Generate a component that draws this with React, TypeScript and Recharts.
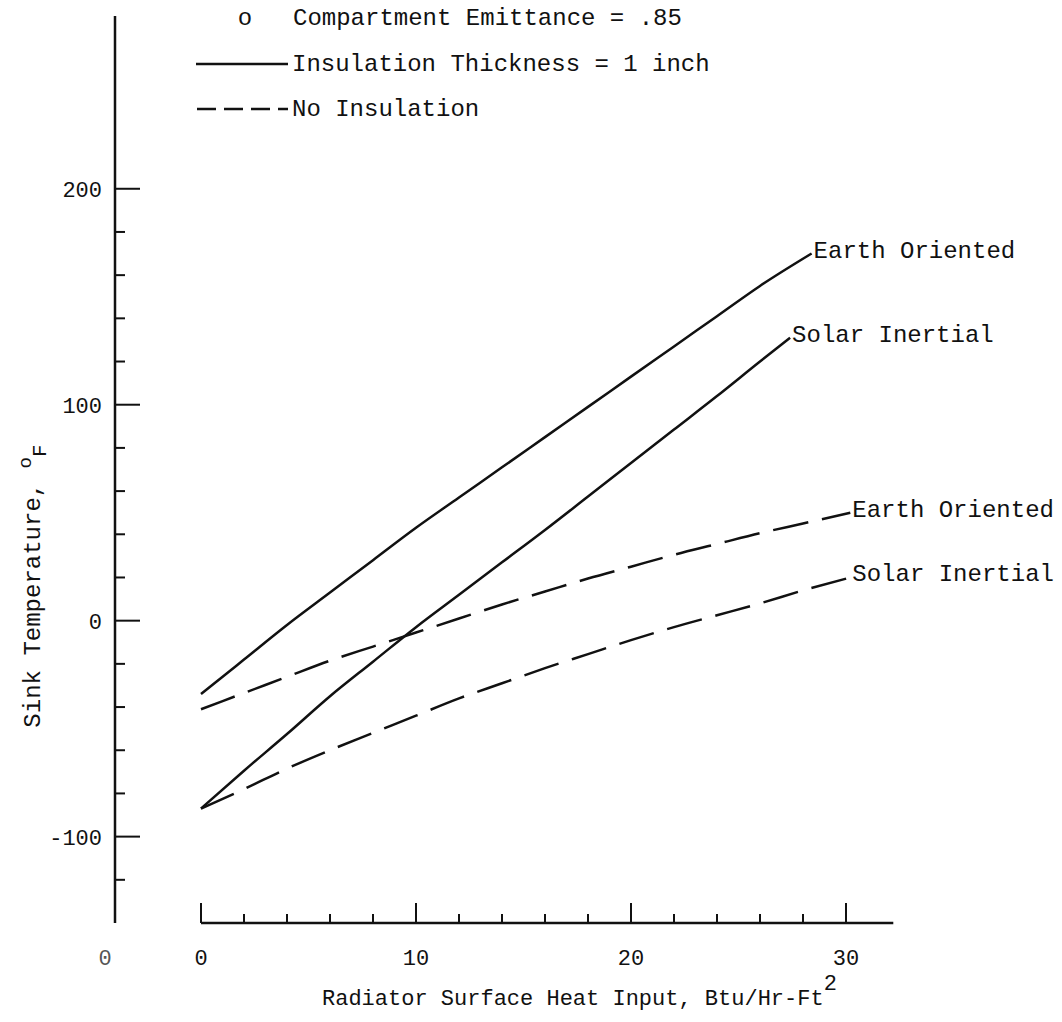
import React from 'react';
import { LineChart, Line, XAxis, YAxis, ReferenceLine, Legend } from 'recharts';

const FONT = '"Liberation Mono", "DejaVu Sans Mono", monospace';
const INK = '#111';

// Radiator surface heat input, Btu/Hr-Ft^2 (x) and sink temperature, deg F (y)
const earthInsulatedX = [0, 2, 4, 6, 8, 10, 12, 14, 16, 18, 20, 22, 24, 26, 28.4];
const earthInsulatedY = [-34, -18, -2, 13, 28, 43, 57, 71, 85, 99, 113, 127, 141, 155, 170];

const solarInsulatedX = [0, 2, 4, 6, 8, 10, 12, 14, 16, 18, 20, 22, 24, 26, 27.4];
const solarInsulatedY = [-87, -69.5, -52.5, -35, -19, -3, 12, 27, 42, 57.5, 73, 88.5, 104, 120, 131];

const earthBareX = [0, 2, 4, 6, 8, 10, 12, 14, 16, 18, 20, 22, 24, 26, 28, 30.2];
const earthBareY = [-41, -33.5, -26, -18.5, -12, -5.5, 1, 7.5, 13.5, 19.5, 25, 30.5, 35.5, 40.5, 45, 50];

const solarBareX = [0, 2, 4, 6, 8, 10, 12, 14, 16, 18, 20, 22, 24, 26, 28, 30.2];
const solarBareY = [-87, -78, -68.5, -60, -52, -44, -36, -29, -22, -15.5, -9, -3, 2.5, 8, 14, 20];

const curveNames = ['Earth Oriented', 'Solar Inertial', 'Earth Oriented', 'Solar Inertial'];

const xDomain = [-4, 38];
const yDomain = [-140, 280];
const xAxisEnd = 32.2;
const xTicks = [-4, 0, 2, 4, 6, 8, 10, 12, 14, 16, 18, 20, 22, 24, 26, 28, 30];
const xMajor = [0, 10, 20, 30];
const yTicks = [-120, -100, -80, -60, -40, -20, 0, 20, 40, 60, 80, 100, 120, 140, 160, 180, 200];
const yMajor = [-100, 0, 100, 200];

const legendRows = [
  { marker: 'o', text: 'Compartment Emittance = .85' },
  { marker: 'solid', text: 'Insulation Thickness = 1 inch' },
  { marker: 'dashed', text: 'No Insulation' },
];

const xTitle = 'Radiator Surface Heat Input, Btu/Hr-Ft';
const yTitle = 'Sink Temperature, ';

const toPoints = (xs: number[], ys: number[]) => xs.map((x, i) => ({ x, y: ys[i] }));
const earthInsulated = toPoints(earthInsulatedX, earthInsulatedY);
const solarInsulated = toPoints(solarInsulatedX, solarInsulatedY);
const earthBare = toPoints(earthBareX, earthBareY);
const solarBare = toPoints(solarBareX, solarBareY);

const FS_AXIS = 22;
const FS_TEXT = 24;
const DASH = '36 14';

const XTick = (props: any) => {
  const { x, y, payload } = props;
  const v = payload.value;
  if (v === xDomain[0]) {
    return (
      <text x={x - 10} y={y + 42} textAnchor="middle" fontFamily={FONT} fontSize={FS_AXIS} fill="#555">0</text>
    );
  }
  const major = xMajor.includes(v);
  return (
    <g>
      <line x1={x} x2={x} y1={y} y2={y - (major ? 20 : 9)} stroke={INK} strokeWidth={2} />
      {major && (
        <text x={x} y={y + 42} textAnchor="middle" fontFamily={FONT} fontSize={FS_AXIS} fill={INK}>{v}</text>
      )}
    </g>
  );
};

const YTick = (props: any) => {
  const { x, y, payload } = props;
  const v = payload.value;
  const major = yMajor.includes(v);
  return (
    <g>
      <line x1={x} x2={x + (major ? 25 : 10)} y1={y} y2={y} stroke={INK} strokeWidth={2} />
      {major && (
        <text x={x - 13} y={y + 8} textAnchor="end" fontFamily={FONT} fontSize={FS_AXIS} fill={INK}>{v}</text>
      )}
    </g>
  );
};

const XTitle = (props: any) => {
  const { viewBox } = props;
  return (
    <text x={322} y={viewBox.y + viewBox.height + 22} textAnchor="start" fontFamily={FONT} fontSize={FS_AXIS} fill={INK}>
      {xTitle}
      <tspan dy={-15} fontSize={FS_AXIS}>2</tspan>
    </text>
  );
};

const YTitle = (props: any) => {
  const { viewBox } = props;
  const cx = 40;
  const cy = viewBox.y + 570;
  return (
    <text x={cx} y={cy} transform={`rotate(-90 ${cx} ${cy})`} textAnchor="middle" fontFamily={FONT} fontSize={FS_TEXT} fill={INK}>
      {yTitle}
      <tspan dy={-9} fontSize={19}>o</tspan>
      <tspan dy={15} fontSize={21}>F</tspan>
    </text>
  );
};

const curveLabel = (text: string, count: number) => (props: any) => {
  if (props.index !== count - 1) return null;
  return (
    <text key={`lbl-${text}-${props.index}`} x={props.x + 2} y={props.y + 4} fontFamily={FONT} fontSize={FS_TEXT} fill={INK}>
      {text}
    </text>
  );
};

const LegendBox = () => (
  <svg width={1062} height={130} style={{ display: 'block' }}>
    {legendRows.map((r, i) => {
      const cy = [18, 64, 109][i];
      return (
        <g key={r.text}>
          {r.marker === 'o' && (
            <text x={245} y={cy + 7} textAnchor="middle" fontFamily={FONT} fontSize={FS_TEXT} fill={INK}>o</text>
          )}
          {r.marker === 'solid' && <line x1={196} x2={288} y1={cy} y2={cy} stroke={INK} strokeWidth={2.5} />}
          {r.marker === 'dashed' && (
            <line x1={197} x2={288} y1={cy} y2={cy} stroke={INK} strokeWidth={2.5} strokeDasharray="19 8" />
          )}
          <text x={r.marker === 'o' ? 293 : 292} y={cy + 7} fontFamily={FONT} fontSize={FS_TEXT} fill={INK}>{r.text}</text>
        </g>
      );
    })}
  </svg>
);

export default function App() {
  return (
    <div style={{ position: 'absolute', left: 0, top: 0, width: 1062, height: 1022, background: '#fff' }}>
      <LineChart width={1062} height={1022} margin={{ top: 16, right: 44, bottom: 39, left: 0 }}>
        <XAxis
          type="number"
          dataKey="x"
          domain={xDomain}
          ticks={xTicks}
          interval={0}
          tickSize={0}
          tickMargin={0}
          axisLine={false}
          tickLine={false}
          tick={<XTick />}
          height={60}
          allowDataOverflow
          label={{ content: <XTitle /> }}
        />
        <YAxis
          type="number"
          dataKey="y"
          domain={yDomain}
          ticks={yTicks}
          interval={0}
          width={115}
          tickSize={0}
          tickMargin={0}
          tickLine={false}
          axisLine={{ stroke: INK, strokeWidth: 2.5 }}
          tick={<YTick />}
          allowDataOverflow
          label={{ content: <YTitle /> }}
        />
        <ReferenceLine
          segment={[{ x: 0, y: yDomain[0] }, { x: xAxisEnd, y: yDomain[0] }]}
          stroke={INK}
          strokeWidth={2.5}
          ifOverflow="visible"
        />
        <Line data={earthInsulated} dataKey="y" type="monotone" stroke={INK} strokeWidth={2.5} dot={false}
          isAnimationActive={false} label={curveLabel(curveNames[0], earthInsulated.length)} />
        <Line data={solarInsulated} dataKey="y" type="monotone" stroke={INK} strokeWidth={2.5} dot={false}
          isAnimationActive={false} label={curveLabel(curveNames[1], solarInsulated.length)} />
        <Line data={earthBare} dataKey="y" type="monotone" stroke={INK} strokeWidth={2.5} dot={false}
          strokeDasharray={DASH} isAnimationActive={false} label={curveLabel(curveNames[2], earthBare.length)} />
        <Line data={solarBare} dataKey="y" type="monotone" stroke={INK} strokeWidth={2.5} dot={false}
          strokeDasharray={DASH} isAnimationActive={false} label={curveLabel(curveNames[3], solarBare.length)} />
        <Legend
          layout="vertical"
          align="center"
          verticalAlign="middle"
          content={<LegendBox />}
          wrapperStyle={{ left: 0, top: 0, width: 1062, height: 130 }}
        />
      </LineChart>
    </div>
  );
}
